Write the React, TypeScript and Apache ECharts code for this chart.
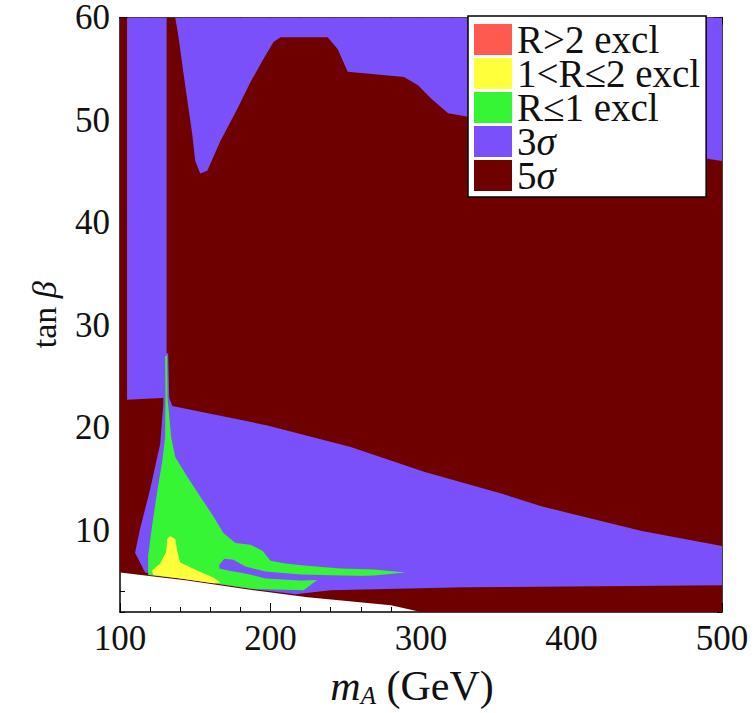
import React, { useEffect, useRef } from 'react';
import * as echarts from 'echarts';

// ---- axes ----
const MA_RANGE = [100, 500];
const TANB_RANGE = [2, 60];
const TANB_LABELS = [10, 20, 30, 40, 50, 60];

// ---- colours of the regions ----
const C_RGT2 = '#ff5a4f';
const C_R12 = '#ffff3c';
const C_RLE1 = '#35f535';
const C_3SIG = '#7a50fa';
const C_5SIG = '#6f0000';

const LEGEND_NAMES = ['R>2 excl', '1<R\u22642 excl', 'R\u22641 excl', '3\u03c3', '5\u03c3'];

// lower edge of the scanned (m_A, tan beta) plane
const SCAN_EDGE: number[][] = [
  [100, 5.85], [144.7, 5.08], [188.7, 4.12], [224.7, 3.45], [280, 2.67], [300, 2],
];

// 5 sigma discovery: everything above the scan edge, other regions are painted over it
const FIVE_SIGMA: number[][] = [[100, 60], [500, 60], [500, 2], ...SCAN_EDGE.slice().reverse()];

// 3 sigma regions
const THREE_SIGMA_STRIP: number[][] = [
  [104.7, 60], [131, 60], [131, 22.9], [104.7, 22.7],
];
const THREE_SIGMA_TOP: number[][] = [
  [136.7, 60], [500, 60], [500, 46.0], [420, 47.8], [353.3, 49.4], [328.7, 50.4],
  [318, 50.65], [306.7, 52.1], [298, 53.4], [288.7, 54.2], [251.3, 54.7], [244.7, 56.9],
  [238, 58.07], [206.7, 58.07], [202, 57.6], [195.3, 55.95], [186.7, 53.7], [178, 51.1],
  [166.7, 47.95], [158, 45.06], [153.3, 44.77], [150, 46.0], [148, 48.6], [143.3, 53.4],
  [138.7, 58.26],
];
const THREE_SIGMA_WEDGE: number[][] = [
  [129.3, 27.24], [132, 27.24], [132.7, 22.9], [134.7, 22.1], [198, 20.2], [253.3, 18.09],
  [302, 15.68], [353.3, 13.56], [380, 12.31], [446.7, 9.9], [500, 8.45], [500, 4.6],
  [328.7, 4.41], [240, 4.12], [216.7, 3.73], [188.7, 4.22], [144.7, 5.18], [116.7, 5.85],
  [110, 7.78], [113.3, 10.09], [120, 13.95], [126.7, 18.38], [128.7, 22.1],
];
const THREE_SIGMA_TONGUE: number[][] = [
  [166, 6.62], [169.3, 7.2], [175.3, 7.1], [183.3, 6.43], [196.7, 5.95], [220, 5.66],
  [246.7, 5.56], [275, 5.5], [275, 5.2], [246.7, 5.18], [220, 5.08], [196.7, 5.28],
  [183.3, 5.76], [172, 6.05], [166, 6.24],
];

// exclusion regions
const EXCL_R_LE1: number[][] = [
  [118.7, 5.62], [118.7, 7.49], [121.3, 10.38], [124.7, 13.75], [128, 16.64], [130, 19.05],
  [130.2, 22.9], [130, 26.95], [131.3, 27.05], [131.6, 22.9], [134, 19.05], [136.7, 17.13],
  [144.7, 15.2], [153.3, 13.27], [162, 11.35], [168.7, 9.71], [176.7, 8.74], [186.7, 8.55],
  [194.7, 7.97], [200, 7.0], [210, 6.72], [222, 6.53], [246.7, 6.24], [268.7, 6.14],
  [290, 5.85], [268.7, 5.56], [233.3, 5.37], [222, 4.12], [188.7, 4.24], [144.7, 5.2],
];
const EXCL_R_1_2: number[][] = [
  [121.3, 6.05], [126.7, 6.72], [130.7, 7.88], [131.3, 9.13], [133.3, 9.42], [136.7, 9.13],
  [138, 7.97], [140, 6.82], [151.3, 6.05], [162, 5.37], [166.7, 4.89], [162, 4.8],
  [140, 5.28], [122, 5.6],
];
const EXCL_R_GT2: number[][][] = [];

const FONT = '"Liberation Serif", "Times New Roman", serif';
const INK = '#111';

function regionSeries(name: string, color: string, polys: number[][][]) {
  return {
    type: 'custom',
    name,
    coordinateSystem: 'cartesian2d',
    xAxisIndex: 0,
    yAxisIndex: 0,
    silent: true,
    clip: true,
    itemStyle: { color },
    data: polys.map((p) => p[0]),
    renderItem: (params: any, api: any) => {
      const poly = polys[params.dataIndex];
      return {
        type: 'polygon',
        shape: { points: poly.map((pt) => api.coord(pt)) },
        style: { fill: color },
      };
    },
  };
}

const frameLine = { show: true, lineStyle: { color: '#000', width: 1.5 } };

function buildOption() {
  return {
    animation: false,
    backgroundColor: '#fff',
    grid: { left: 120, right: 33, top: 16, bottom: 96, containLabel: false },
    xAxis: [
      {
        type: 'value',
        position: 'bottom',
        min: MA_RANGE[0],
        max: MA_RANGE[1],
        interval: 100,
        axisLine: frameLine,
        axisTick: { show: true, inside: true, length: 9, lineStyle: { color: '#000' } },
        minorTick: { show: true, splitNumber: 5, length: 5, lineStyle: { color: '#000' } },
        splitLine: { show: false },
        minorSplitLine: { show: false },
        axisLabel: { fontFamily: FONT, fontSize: 35, color: INK, margin: 9 },
        name: '{m|m}{s|A}{g| (GeV)}',
        nameLocation: 'middle',
        nameGap: 52,
        nameTextStyle: {
          fontFamily: FONT,
          color: INK,
          rich: {
            m: { fontFamily: FONT, fontStyle: 'italic', fontSize: 42, lineHeight: 44, color: INK },
            s: { fontFamily: FONT, fontStyle: 'italic', fontSize: 25, lineHeight: 12, verticalAlign: 'bottom', color: INK },
            g: { fontFamily: FONT, fontSize: 42, lineHeight: 44, color: INK, padding: [0, 18, 0, 0] },
          },
        },
      },
      {
        type: 'value',
        position: 'top',
        min: MA_RANGE[0],
        max: MA_RANGE[1],
        interval: 100,
        axisLine: frameLine,
        axisTick: { show: true, inside: true, length: 7, lineStyle: { color: '#000' } },
        minorTick: { show: true, splitNumber: 5, length: 4, lineStyle: { color: '#000' } },
        splitLine: { show: false },
        minorSplitLine: { show: false },
        axisLabel: { show: false },
      },
    ],
    yAxis: [
      {
        type: 'value',
        position: 'left',
        min: TANB_RANGE[0],
        max: TANB_RANGE[1],
        axisLine: frameLine,
        axisTick: { show: true, inside: true, length: 8, customValues: TANB_LABELS, lineStyle: { color: '#000' } },
        axisLabel: { customValues: TANB_LABELS, fontFamily: FONT, fontSize: 35, color: INK, margin: 10 },
        splitLine: { show: false },
        name: '{t|tan }{b|\u03b2}',
        nameLocation: 'middle',
        nameRotate: 90,
        nameGap: 58,
        nameTextStyle: {
          fontFamily: FONT,
          color: INK,
          rich: {
            t: { fontFamily: FONT, fontSize: 34, lineHeight: 36, color: INK },
            b: { fontFamily: FONT, fontStyle: 'italic', fontSize: 34, lineHeight: 36, color: INK },
          },
        },
      },
      {
        type: 'value',
        position: 'left',
        min: TANB_RANGE[0],
        max: TANB_RANGE[1],
        interval: 2,
        axisLine: { show: false },
        axisTick: { show: true, inside: true, length: 5, lineStyle: { color: '#000' } },
        axisLabel: { show: false },
        splitLine: { show: false },
      },
      {
        type: 'value',
        position: 'right',
        min: TANB_RANGE[0],
        max: TANB_RANGE[1],
        axisLine: frameLine,
        axisTick: { show: true, inside: true, length: 8, customValues: TANB_LABELS, lineStyle: { color: '#000' } },
        axisLabel: { show: false },
        splitLine: { show: false },
      },
      {
        type: 'value',
        position: 'right',
        min: TANB_RANGE[0],
        max: TANB_RANGE[1],
        interval: 2,
        axisLine: { show: false },
        axisTick: { show: true, inside: true, length: 5, lineStyle: { color: '#000' } },
        axisLabel: { show: false },
        splitLine: { show: false },
      },
    ],
    legend: {
      data: LEGEND_NAMES,
      orient: 'vertical',
      left: 468,
      top: 16,
      backgroundColor: '#fff',
      borderColor: '#000',
      borderWidth: 1.5,
      borderRadius: 0,
      padding: [4, 6, 2, 6],
      itemGap: -5,
      itemWidth: 38,
      itemHeight: 31,
      icon: 'rect',
      selectedMode: false,
      formatter: (name: string) =>
        name.endsWith('\u03c3') ? `{n|${name.slice(0, -1)}}{s|\u03c3}` : `{n|${name}}`,
      textStyle: {
        fontFamily: FONT,
        fontSize: 39,
        color: INK,
        rich: {
          n: { fontFamily: FONT, fontSize: 39, color: INK },
          s: { fontFamily: FONT, fontStyle: 'italic', fontSize: 39, color: INK },
        },
      },
    },
    series: [
      regionSeries('5\u03c3', C_5SIG, [FIVE_SIGMA]),
      regionSeries('3\u03c3', C_3SIG, [THREE_SIGMA_STRIP, THREE_SIGMA_TOP, THREE_SIGMA_WEDGE]),
      regionSeries('R\u22641 excl', C_RLE1, [EXCL_R_LE1]),
      regionSeries('1<R\u22642 excl', C_R12, [EXCL_R_1_2]),
      regionSeries('3\u03c3', C_3SIG, [THREE_SIGMA_TONGUE]),
      regionSeries('R>2 excl', C_RGT2, EXCL_R_GT2),
    ],
  };
}

export default function App() {
  const ref = useRef<HTMLDivElement>(null);
  useEffect(() => {
    if (!ref.current) return;
    const chart = echarts.init(ref.current, null, { renderer: 'svg' });
    chart.setOption(buildOption() as any);
    return () => chart.dispose();
  }, []);
  return (
    <div
      ref={ref}
      style={{ position: 'fixed', left: 0, top: 0, width: 755, height: 713, background: '#fff' }}
    />
  );
}
